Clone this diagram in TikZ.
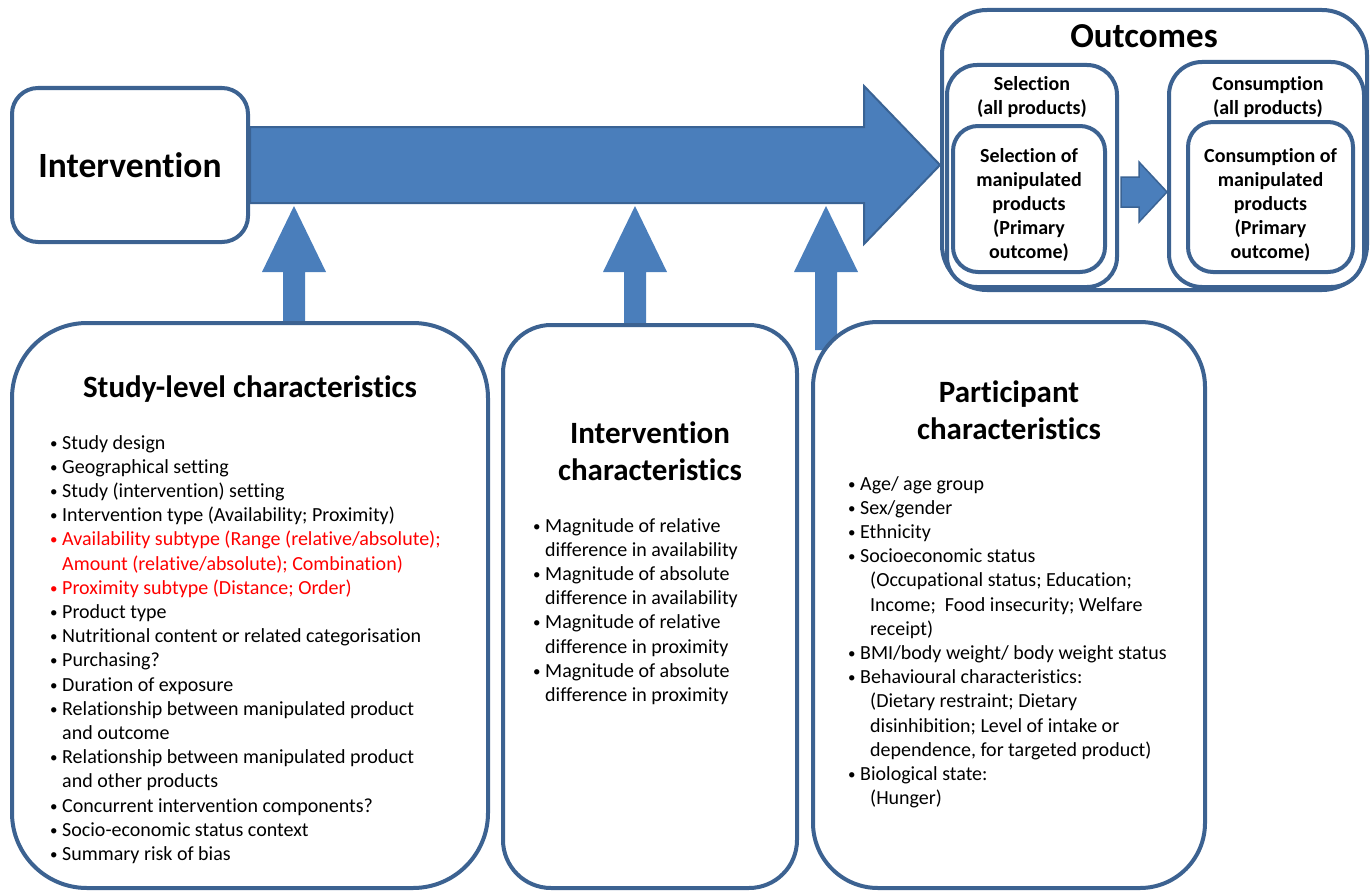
\documentclass[tikz,border=0pt]{standalone}
\usepackage{fontspec}
\setmainfont{Carlito}[Ligatures=NoCommon]
\usetikzlibrary{calc,backgrounds}

\definecolor{boxblue}{HTML}{3C6291}
\definecolor{arrowblue}{HTML}{4A7EBB}
\definecolor{edgeblue}{HTML}{3A6394}

\newcommand{\bul}{\makebox[12pt][l]{\raisebox{1pt}{\scalebox{0.75}{\textbullet}}}}
\newcommand{\ind}[1][12pt]{\hspace*{#1}}

\begin{document}
\begin{tikzpicture}[
    x=1pt, y=-1pt,
    every node/.style={align=center},
    panel/.style={draw=boxblue, line width=4pt, fill=white},
    heading/.style={font=\fontsize{31}{37}\selectfont\bfseries},
    sublabel/.style={font=\fontsize{20}{24}\selectfont\bfseries},
    bullets/.style={font=\fontsize{20}{24.2}\selectfont, align=left, anchor=north west, inner sep=0pt},
    fatarrow/.style={fill=arrowblue, draw=edgeblue, line width=2pt},
    uparrow/.style={fill=arrowblue}
]
\useasboundingbox (0,0) rectangle (1371,891);

% Nodes
\node[panel, rounded corners=26pt, minimum width=236pt, minimum height=154pt,
    font=\fontsize{35.5}{40}\selectfont\bfseries] (intv) at (130,165) {Intervention};

\node[panel, rounded corners=45pt, minimum width=425pt, minimum height=280pt] (outc) at (1154.5,150) {};
\node[font=\fontsize{35}{40}\selectfont\bfseries] (outt) at (1144,36) {Outcomes};
\node[panel, rounded corners=30pt, minimum width=170pt, minimum height=222pt] (sel) at (1032,176) {};
\node[sublabel] (selt) at (1032,97) {Selection\\(all products)};
\node[panel, rounded corners=25pt, minimum width=152pt, minimum height=146pt] (selin) at (1029,199) {};
\node[sublabel] (selint) at (1029,205) {Selection of\\manipulated\\products\\(Primary\\outcome)};
\node[panel, rounded corners=33pt, minimum width=195pt, minimum height=225pt] (cons) at (1266.5,174.5) {};
\node[sublabel] (const) at (1268,97) {Consumption\\(all products)};
\node[panel, rounded corners=25pt, minimum width=165pt, minimum height=150pt] (consin) at (1270.5,197) {};
\node[sublabel] (consint) at (1270.5,205) {Consumption of\\manipulated\\products\\(Primary\\outcome)};

\node[panel, rounded corners=75pt, minimum width=476pt, minimum height=565pt] (study) at (250,605.5) {};
\node[heading] (studyt) at (250,389) {Study-level characteristics};
\node[bullets] (studylist) at (50,435) {%
\bul Study design\\
\bul Geographical setting\\
\bul Study (intervention) setting\\
\bul Intervention type (Availability; Proximity)\\
\textcolor{red}{\bul Availability subtype (Range (relative/absolute);}\\
\textcolor{red}{\ind Amount (relative/absolute); Combination)}\\
\textcolor{red}{\bul Proximity subtype (Distance; Order)}\\
\bul Product type\\
\bul Nutritional content or related categorisation\\
\bul Purchasing?\\
\bul Duration of exposure\\
\bul Relationship between manipulated product\\
\ind and outcome\\
\bul Relationship between manipulated product\\
\ind and other products\\
\bul Concurrent intervention components?\\
\bul Socio-economic status context\\
\bul Summary risk of bias};

\node[panel, rounded corners=48pt, minimum width=294pt, minimum height=563pt] (inchar) at (650,606.5) {};
\node[heading] (inchart) at (650,451.5) {Intervention\\characteristics};
\node[bullets] (incharlist) at (533,518) {%
\bul Magnitude of relative\\
\ind difference in availability\\
\bul Magnitude of absolute\\
\ind difference in availability\\
\bul Magnitude of relative\\
\ind difference in proximity\\
\bul Magnitude of absolute\\
\ind difference in proximity};

\node[panel, rounded corners=65pt, minimum width=392pt, minimum height=566pt] (part) at (1009,605) {};
\node[heading] (partt) at (1009,410) {Participant\\characteristics};
\node[bullets] (partlist) at (848,476) {%
\bul Age/ age group\\
\bul Sex/gender\\
\bul Ethnicity\\
\bul Socioeconomic status\\
\ind[22pt](Occupational status; Education;\\
\ind[22pt]Income;\ \ Food insecurity; Welfare\\
\ind[22pt]receipt)\\
\bul BMI/body weight/ body weight status\\
\bul Behavioural characteristics:\\
\ind[22pt](Dietary restraint; Dietary\\
\ind[22pt]disinhibition; Level of intake or\\
\ind[22pt]dependence, for targeted product)\\
\bul Biological state:\\
\ind[22pt](Hunger)};

% Arrows
\coordinate (tip) at (intv.east -| outc.west);
\coordinate (tip2) at (cons.west |- 0,192);
\begin{scope}[on background layer]
\foreach \nd/\x in {study/294, inchar/635, part/826}
  \fill[uparrow] ($(\nd.north -| \x,0)+(-11,30)$) -- (\x-11,272) -- (\x-32,272) -- (\x,206)
    -- (\x+32,272) -- (\x+11,272) -- ($(\nd.north -| \x,0)+(11,30)$) -- cycle;
\draw[fatarrow] ($(intv.east)+(0,-38)$) -- ($(tip)+(-76,-38)$) -- ($(tip)+(-76,-79)$) -- (tip)
    -- ($(tip)+(-76,79)$) -- ($(tip)+(-76,38)$) -- ($(intv.east)+(0,38)$) -- cycle;
\end{scope}
\draw[fatarrow, line width=1.5pt] ($(sel.east |- tip2)+(2,-15)$) -- ($(tip2)+(-28,-15)$) -- ($(tip2)+(-28,-30)$) -- (tip2)
    -- ($(tip2)+(-28,30)$) -- ($(tip2)+(-28,15)$) -- ($(sel.east |- tip2)+(2,15)$) -- cycle;

\end{tikzpicture}
\end{document}
